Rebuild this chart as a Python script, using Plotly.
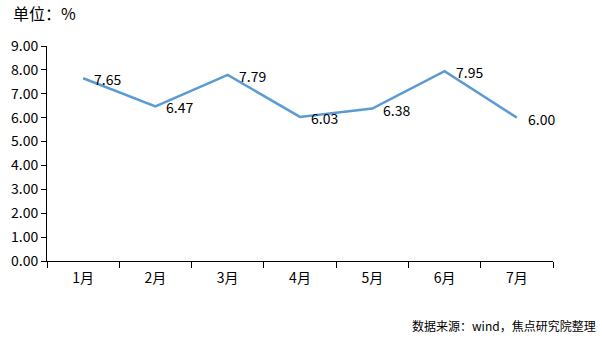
import plotly.graph_objects as go

months = ["1月", "2月", "3月", "4月", "5月", "6月", "7月"]
values = [7.65, 6.47, 7.79, 6.03, 6.38, 7.95, 6.00]
y_ticks = [0, 1, 2, 3, 4, 5, 6, 7, 8, 9]

FONT = "Noto Sans CJK SC, Microsoft YaHei, sans-serif"

fig = go.Figure()
fig.add_trace(go.Scatter(
    x=months, y=values, mode="lines",
    line=dict(color="#5b9bd5", width=2.5),
    hoverinfo="skip", showlegend=False,
))
for m, v in zip(months, values):
    fig.add_annotation(x=m, y=v, text=f"{v:.2f}", showarrow=False,
                       xanchor="left", yanchor="middle", xshift=9, yshift=-1,
                       font=dict(size=14, color="#000000", family=FONT))

fig.add_annotation(xref="paper", yref="paper", x=-0.072, y=1.09, text="单位：%",
                   showarrow=False, xanchor="left", yanchor="bottom",
                   font=dict(size=16, color="#000000", family=FONT))
fig.add_annotation(xref="paper", yref="paper", x=1.089, y=-0.25, text="数据来源：wind，焦点研究院整理",
                   showarrow=False, xanchor="right", yanchor="top",
                   font=dict(size=12, color="#000000", family=FONT))

fig.update_layout(
    width=602, height=339,
    margin=dict(l=47, r=49, t=46, b=78),
    paper_bgcolor="white", plot_bgcolor="white",
    font=dict(family=FONT, size=14, color="#000000"),
    xaxis=dict(type="category", range=[-0.5, 6.5], showline=True, linecolor="#000000", linewidth=1,
               ticks="outside", tickson="boundaries", ticklen=6, tickcolor="#000000",
               ticklabelstandoff=4,
               showgrid=False, zeroline=False, tickfont=dict(size=14)),
    yaxis=dict(range=[0, 9], tickvals=y_ticks, tickformat=".2f", showline=True,
               linecolor="#000000", linewidth=1, ticks="outside", ticklen=5,
               tickcolor="#000000", showgrid=False, zeroline=False,
               tickfont=dict(size=14)),
)

fig.write_html("out.html")
